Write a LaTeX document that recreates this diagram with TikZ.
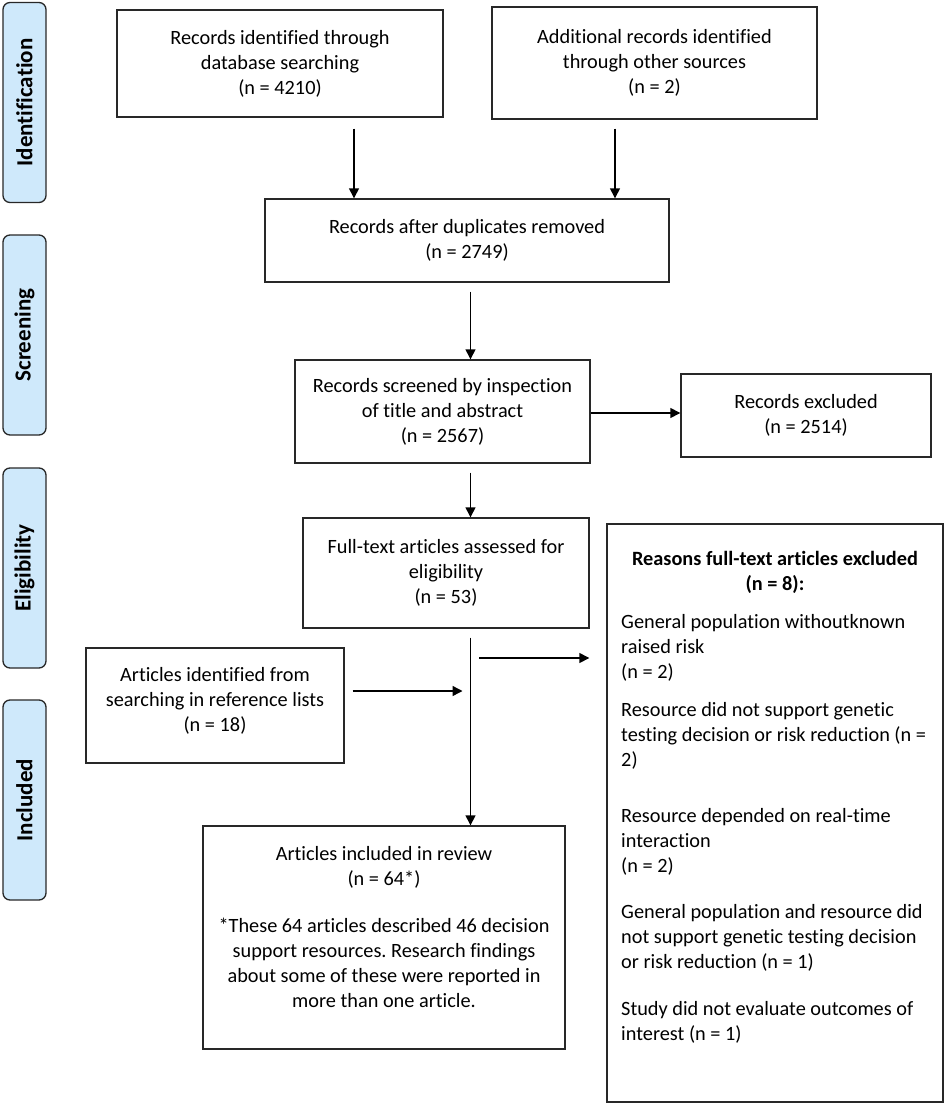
\documentclass[tikz,border=0pt]{standalone}
\usepackage{fontspec}
\setmainfont{Carlito}[Ligatures=NoCommon]
\frenchspacing
\usetikzlibrary{arrows.meta,calc}
\definecolor{lblue}{RGB}{207,233,251}
\definecolor{edge}{RGB}{40,40,40}
\begin{document}
\begin{tikzpicture}[x=1pt,y=-1pt,
  box/.style={draw=edge, line width=1.4pt, rectangle, inner sep=0pt, align=center, font=\fontsize{20.3}{25}\selectfont},
  phase/.style={draw=edge, line width=1.3pt, fill=lblue, rounded corners=7pt, rotate=90, minimum width=200pt, minimum height=43pt, inner sep=0pt, font=\bfseries\fontsize{23}{27}\selectfont},
  arr/.style={draw=black, line width=1.4pt, -{Triangle[length=10pt,width=10pt]}},
  txt/.style={inner sep=0pt, font=\fontsize{20.3}{25}\selectfont},
]
\useasboundingbox (0,0) rectangle (945,1105);

% phase labels
\node[phase] (p1) at (24.5,102.5) {Identification};
\node[phase] (p2) at (24.5,335) {Screening};
\node[phase] (p3) at (24.5,568) {Eligibility};
\node[phase] (p4) at (24.5,800) {Included};

% boxes
\node[box, minimum width=326pt, minimum height=107pt] (A) at (280,63.5) {Records identified through\\database searching\\(n = 4210)};
\node[box, minimum width=325pt, minimum height=112pt] (B) at (654.5,63) {Additional records identified\\through other sources\\(n = 2)};
\node[box, minimum width=404pt, minimum height=83pt] (C) at (467,240.5) {Records after duplicates removed\\(n = 2749)};
\node[box, minimum width=295pt, minimum height=103pt] (D) at (442.5,411.5) {Records screened by inspection\\of title and abstract\\(n = 2567)};
\node[box, minimum width=250pt, minimum height=83pt] (E) at (806,415.5) {Records excluded\\(n = 2514)};
\node[box, minimum width=286pt, minimum height=110pt] (F) at (446,573) {Full-text articles assessed for\\eligibility\\(n = 53)};
\node[box, minimum width=258pt, minimum height=115pt] (G) at (215,705.5) {};
\node[txt, align=center] (Gt) at (215,701) {Articles identified from\\searching in reference lists\\(n = 18)};
\node[box, minimum width=362pt, minimum height=223pt] (H) at (384,937.5) {};
\node[txt, align=center] (Ht) at (384,927) {Articles included in review\\(n = 64*)\\[22pt]*These 64 articles described 46 decision\\support resources. Research findings\\about some of these were reported in\\more than one article.};
\node[box, minimum width=336pt, minimum height=578pt] (R) at (775,813) {};

% reasons text
\node[txt, align=center, font=\bfseries\fontsize{20.3}{25}\selectfont] (r0) at (775,572.5) {Reasons full-text articles excluded\\(n = 8):};
\node[txt, align=left, anchor=west] (r1) at (621,648) {General population withoutknown\\raised risk\\(n = 2)};
\node[txt, align=left, anchor=west] (r2) at (621,736) {Resource did not support genetic\\testing decision or risk reduction (n =\\2)};
\node[txt, align=left, anchor=west] (r3) at (621,842) {Resource depended on real-time\\interaction\\(n = 2)};
\node[txt, align=left, anchor=west] (r4) at (621,938) {General population and resource did\\not support genetic testing decision\\or risk reduction (n = 1)};
\node[txt, align=left, anchor=west] (r5) at (621,1022.5) {Study did not evaluate outcomes of\\interest (n = 1)};

% connectors
\coordinate (ax) at (354,0);
\coordinate (bx) at (615,0);
\coordinate (cx) at (470.5,0);
\coordinate (dy) at (0,413);
\coordinate (ry) at (0,658);
\coordinate (gy) at (0,691);
\draw[arr] ($(A.south -| ax)+(0,11)$) -- (ax |- C.north);
\draw[arr] ($(B.south -| bx)+(0,9)$) -- (bx |- C.north);
\draw[arr] ($(C.south -| cx)+(0,9)$) -- (cx |- D.north);
\draw[arr] (D.east |- dy) -- (E.west |- dy);
\draw[arr] ($(D.south -| cx)+(0,9)$) -- (cx |- F.north);
\draw[arr] ($(F.south -| cx)+(0,9)$) -- (cx |- H.north);
\draw[arr] ($(cx |- ry)+(8.5,0)$) -- ($(R.west |- ry)+(-17,0)$);
\draw[arr] ($(G.east |- gy)+(8,0)$) -- ($(cx |- gy)+(-8,0)$);
\end{tikzpicture}
\end{document}
